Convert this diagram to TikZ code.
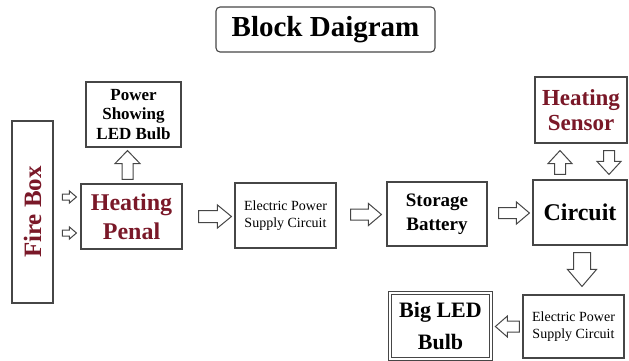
\documentclass[tikz,border=0pt]{standalone}
\usepackage{fontspec}
\setmainfont{Liberation Serif}
\usetikzlibrary{calc}
\definecolor{dred}{RGB}{122,24,40}
\definecolor{bline}{RGB}{70,70,70}
\newcommand\myfs[2]{\fontsize{#1}{#2}\selectfont}
% block arrow: start, end, shaft half width, head half width, head length
\newcommand\blockarrow[5]{%
  \coordinate (baq) at ($(#2)!#5!(#1)$);
  \draw[barr] ($(#1)!#3!90:(#2)$) -- ($(baq)!#3!90:(#2)$) -- ($(baq)!#4!90:(#2)$) -- (#2)
    -- ($(baq)!#4!-90:(#2)$) -- ($(baq)!#3!-90:(#2)$) -- ($(#1)!#3!-90:(#2)$) -- cycle;}
\begin{document}
\begin{tikzpicture}[x=1pt,y=-1pt,
  box/.style={draw=bline,line width=1.1pt,inner sep=0pt,align=center,font=\bfseries},
  barr/.style={draw=bline,fill=white,line width=1pt,line join=miter}]
\useasboundingbox (0,0) rectangle (629,360);
\node[box, rounded corners=4pt, minimum width=219pt, minimum height=45pt, font=\bfseries\myfs{29}{32}] (title) at (325.5,29.5) {Block Daigram};
\node[box, minimum width=95pt, minimum height=65pt, font=\bfseries\myfs{17}{19.5}] (power) at (133.5,114.5) {Power\\Showing\\LED Bulb};
\node[box, rotate=90, minimum width=182pt, minimum height=41pt, text=dred, font=\bfseries\myfs{25}{28}] (fire) at (32.5,212) {Fire Box};
\node[box, minimum width=101pt, minimum height=65pt, text=dred, font=\bfseries\myfs{24}{29}] (hp) at (131.5,216.5) {Heating\\Penal};
\node[box, minimum width=101pt, minimum height=65pt, font=\myfs{14}{17}] (e1) at (285.5,215.5) {Electric Power\\Supply Circuit};
\node[box, minimum width=100pt, minimum height=64pt, font=\bfseries\myfs{19}{24}] (st) at (437,214) {Storage\\Battery};
\node[box, minimum width=94pt, minimum height=65pt, font=\bfseries\myfs{24}{28}] (circ) at (580,212.5) {Circuit};
\node[box, minimum width=92pt, minimum height=66pt, text=dred, font=\bfseries\myfs{23}{25}] (sens) at (581,110) {Heating\\Sensor};
\node[box, minimum width=101pt, minimum height=63pt, font=\myfs{14}{17}] (e2) at (573.5,326.5) {Electric Power\\Supply Circuit};
\node[box, double=white, double distance=2pt, line width=0.8pt, minimum width=101pt, minimum height=66pt, font=\bfseries\myfs{22}{32}] (big) at (440.5,326) {Big LED\\Bulb};

% fire box -> heating penal
\coordinate (f1s) at ($(hp.west)+(-18,-19.5)$);
\coordinate (f1e) at ($(hp.west)+(-4,-19.5)$);
\blockarrow{f1s}{f1e}{3pt}{6pt}{7pt}
\coordinate (f2s) at ($(hp.west)+(-18,16.5)$);
\coordinate (f2e) at ($(hp.west)+(-4,16.5)$);
\blockarrow{f2s}{f2e}{3pt}{6pt}{7pt}
% heating penal -> power showing
\coordinate (pus) at ($(hp.north)+(-4,-4)$);
\coordinate (pue) at ($(power.south -| pus)+(0,3)$);
\blockarrow{pus}{pue}{5.5pt}{12.5pt}{13pt}
% heating penal -> e1
\coordinate (a1s) at ($(hp.east)+(16,0)$);
\coordinate (a1e) at ($(e1.west |- hp.east)+(-3,0)$);
\blockarrow{a1s}{a1e}{6pt}{11.5pt}{14pt}
% e1 -> storage
\coordinate (a2s) at ($(e1.east)+(14,-1)$);
\coordinate (a2e) at ($(st.west |- a2s)+(-5,0)$);
\blockarrow{a2s}{a2e}{5.5pt}{11pt}{13pt}
% storage -> circuit
\coordinate (a3s) at ($(st.east)+(11,-1)$);
\coordinate (a3e) at ($(circ.west |- a3s)+(-3,0)$);
\blockarrow{a3s}{a3e}{5.5pt}{11pt}{13pt}
% circuit <-> sensor
\coordinate (a4s) at ($(circ.north)+(-20,-5)$);
\coordinate (a4e) at ($(sens.south -| a4s)+(0,7)$);
\blockarrow{a4s}{a4e}{5.5pt}{12pt}{13pt}
\coordinate (a5s) at ($(sens.south)+(28,7)$);
\coordinate (a5e) at ($(circ.north -| a5s)+(0,-5)$);
\blockarrow{a5s}{a5e}{5.5pt}{12pt}{13pt}
% circuit -> e2
\coordinate (a6s) at ($(circ.south)+(2,7)$);
\coordinate (a6e) at ($(e2.north -| a6s)+(0,-8)$);
\blockarrow{a6s}{a6e}{8.5pt}{14.5pt}{17pt}
% e2 -> big led
\coordinate (a7s) at ($(e2.west)+(-3,0)$);
\coordinate (a7e) at ($(big.east |- a7s)+(4,0)$);
\blockarrow{a7s}{a7e}{5.5pt}{10.5pt}{12pt}
\end{tikzpicture}
\end{document}
